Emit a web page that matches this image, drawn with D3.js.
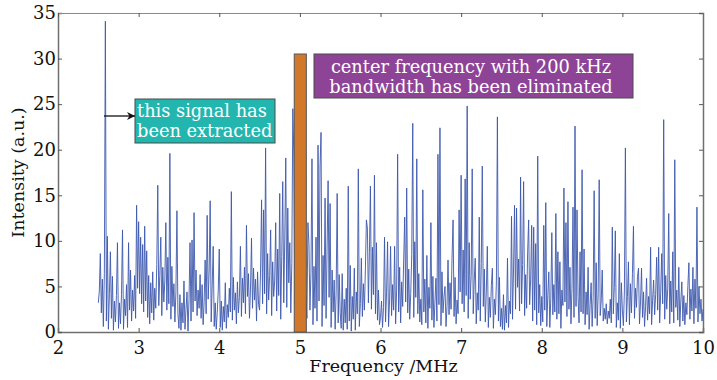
<!DOCTYPE html>
<html>
<head>
<meta charset="utf-8">
<script src="https://cdn.jsdelivr.net/npm/d3@7"></script>
<style>
  body { margin: 0; background: #fff; }
  text { font-family: "DejaVu Serif", serif; }
</style>
</head>
<body>
<div id="chart"></div>
<script>
// spectrum sampled every 0.0125 MHz starting at 2.5 MHz (one row = 0.5 MHz)
const freqStart = 2.5;
const freqStep = 0.0125;
const intensity = [
  3.2,4.5,8.6,2.1,5.8,0.6,6.4,34.1,1.2,10.5,0.3,4.2,8.8,1.5,6.1,0.2,3.4,1.1,4.0,9.8,0.4,3.2,0.9,4.1,11.2,0.3,3.6,1.8,5.2,0.5,9.8,2.4,6.8,1.2,4.6,2.3,6.2,1.5,13.9,4.8,
  12.1,4.2,10.4,3.1,9.6,2.2,11.6,3.4,8.9,1.6,6.2,0.9,5.4,2.1,6.6,1.3,4.8,2.6,7.4,16.1,2.9,6.2,10.4,1.8,7.1,3.3,5.6,12.0,2.4,8.2,3.1,19.6,1.4,7.2,2.8,5.3,1.1,4.4,13.3,2.0,
  0.4,4.1,0.2,3.2,1.0,5.6,0.3,2.5,4.4,0.1,3.6,9.8,1.2,10.1,2.2,13.1,3.4,6.8,1.8,4.6,2.6,6.3,1.5,5.2,0.8,3.3,7.9,2.0,12.8,3.6,6.7,14.4,1.1,5.1,9.4,0.6,3.2,0.3,2.1,4.5,
  9.1,0.5,3.4,0.2,2.8,1.1,5.4,0.4,3.0,1.6,4.8,2.2,15.4,1.3,6.0,2.4,4.3,0.9,5.5,2.1,3.8,9.4,1.7,5.9,3.2,7.1,2.0,11.7,3.9,6.4,1.5,4.7,10.3,2.6,7.0,3.5,5.8,1.2,6.6,3.0,
  2.4,6.8,14.5,3.1,13.4,4.2,20.2,2.0,8.6,3.5,6.2,11.2,1.8,7.7,3.9,5.6,12.0,2.3,9.1,4.0,15.2,1.4,8.3,16.5,3.2,10.2,19.1,2.7,13.6,5.4,9.8,2.1,7.5,24.5,19.4,3.0,6.0,2.0,5.0,3.0,
  4.0,2.0,5.0,3.0,6.0,2.0,4.0,1.5,12.0,9.7,2.4,6.5,19.0,0.8,7.2,2.6,10.4,1.2,20.5,3.4,18.1,21.9,0.6,8.4,2.9,14.7,1.5,9.2,16.6,3.8,14.1,0.5,6.8,2.2,5.7,0.3,4.5,15.2,1.0,6.3,
  2.1,0.4,6.4,0.2,3.6,1.0,4.8,0.3,16.0,1.2,7.3,0.1,3.9,1.4,7.0,0.2,4.4,2.0,17.9,0.6,3.1,8.1,1.7,5.3,2.4,6.8,12.3,11.4,3.2,8.7,16.0,2.5,9.3,4.1,17.2,2.0,9.8,1.3,4.6,0.8,
  1.6,3.4,0.5,2.7,10.4,1.1,4.3,9.9,0.6,3.5,9.4,1.8,5.2,2.4,9.4,0.9,4.6,19.5,2.2,7.1,1.0,5.5,2.8,7.9,12.6,3.3,15.8,2.1,6.9,1.4,4.2,8.5,22.9,1.6,9.9,3.8,19.0,2.0,6.4,1.1,
  3.6,0.8,15.6,2.2,5.8,1.0,8.4,0.4,4.9,2.6,12.0,1.3,6.1,0.5,3.3,5.9,1.2,19.5,3.0,22.4,0.7,6.6,2.1,3.9,5.0,0.6,2.8,7.9,1.9,5.4,2.5,8.2,12.3,1.7,6.0,0.9,3.5,2.0,13.4,4.4,
  17.2,3.1,9.0,2.2,16.8,4.0,24.8,1.5,9.8,3.6,6.2,17.9,2.0,5.6,8.1,0.9,4.3,2.4,12.6,1.2,7.5,18.2,2.8,6.9,1.1,4.5,9.4,0.5,3.8,1.6,5.1,7.0,0.4,3.6,1.9,5.5,23.6,1.2,6.0,0.6,
  2.6,0.3,4.1,0.2,2.9,1.0,8.1,0.5,3.4,2.0,12.7,1.4,6.8,13.9,2.5,13.6,4.9,8.0,2.3,17.0,3.1,7.4,16.5,1.8,6.3,2.6,8.8,12.3,3.0,5.8,11.7,1.2,11.5,2.4,9.7,0.8,19.3,2.1,5.2,0.7,
  3.9,1.1,11.7,2.4,14.2,0.6,4.0,6.6,0.5,3.7,10.9,1.9,5.2,2.2,13.0,1.4,8.8,2.0,7.7,0.4,4.6,2.9,15.8,3.3,12.0,1.7,14.3,2.5,7.1,0.9,4.8,13.7,1.6,22.6,2.8,13.4,3.9,1.0,8.8,2.2,
  17.8,2.0,9.1,0.8,4.4,1.9,7.1,0.3,3.0,5.4,0.6,3.8,15.5,1.5,7.6,0.7,4.2,16.7,1.8,3.4,6.8,1.2,2.6,1.4,3.1,0.9,2.3,1.5,3.6,1.0,11.5,2.0,4.9,11.1,0.5,3.2,1.3,8.6,0.4,5.4,
  2.4,0.7,4.5,20.2,1.1,3.9,7.7,0.8,5.3,2.1,6.4,11.6,1.5,4.8,2.7,6.1,7.0,0.9,3.3,7.0,1.6,4.4,0.6,2.8,5.9,1.3,3.9,2.0,9.3,0.8,3.5,5.7,1.9,4.1,8.2,2.4,9.3,1.0,4.3,8.6,
  3.1,23.3,1.4,6.2,2.5,4.8,13.0,0.9,5.6,2.2,8.8,1.0,18.9,2.7,4.6,1.3,7.1,0.6,3.4,5.5,1.2,4.0,0.8,3.2,1.9,5.1,7.6,1.4,4.7,2.3,7.1,0.9,5.8,2.6,13.7,1.1,5.0,2.0,3.6,1.2,
  2.5
];

// eliminated band around the 5 MHz centre frequency
const bandFreq = [4.93, 5.08];
const bandHeight = 30.5;

const xTicks = [2, 3, 4, 5, 6, 7, 8, 9, 10];
const yTicks = [0, 5, 10, 15, 20, 25, 30, 35];

const noteExtracted = ["this signal has", "been extracted"];
const noteEliminated = ["center frequency with 200 kHz", "bandwidth has been eliminated"];

const width = 717, height = 380;
const margin = { top: 13, right: 14, bottom: 48, left: 58 };
const w = width - margin.left - margin.right;
const h = height - margin.top - margin.bottom;

const svg = d3.select("#chart")
    .append("svg")
    .attr("width", width)
    .attr("height", height);

svg.append("defs").append("marker")
    .attr("id", "arrow")
    .attr("viewBox", "0 0 10 10")
    .attr("refX", 10).attr("refY", 5)
    .attr("markerWidth", 10).attr("markerHeight", 8)
    .attr("markerUnits", "userSpaceOnUse")
    .attr("orient", "auto")
    .append("path")
    .attr("d", "M0,0 L10,5 L0,10 L3,5 Z")
    .attr("fill", "#111");

const g = svg.append("g")
    .attr("transform", `translate(${margin.left}, ${margin.top})`);

const x = d3.scaleLinear().domain([2, 10]).range([0, w]);
const y = d3.scaleLinear().domain([0, 35]).range([h, 0]);

// axes (ticks pointing inwards on all four sides)
function styleAxis(sel) {
    sel.select("path.domain").attr("stroke", "#6f6f6f").attr("stroke-width", 1.5);
    sel.selectAll(".tick line").attr("stroke", "#555");
    sel.selectAll(".tick text")
        .attr("fill", "#111")
        .style("font-size", "18px")
        .style("font-family", "DejaVu Serif, serif");
}

g.append("g")
    .attr("transform", `translate(0, ${h})`)
    .call(d3.axisBottom(x).tickValues(xTicks).tickSize(-4).tickPadding(9).tickFormat(d3.format("d")))
    .call(styleAxis);

g.append("g")
    .call(d3.axisLeft(y).tickValues(yTicks).tickSize(-4).tickPadding(2).tickFormat(d3.format("d")))
    .call(styleAxis);

g.append("g")
    .call(d3.axisTop(x).tickValues(xTicks).tickSize(-4).tickFormat(""))
    .call(styleAxis)
    .select("path.domain").attr("stroke", "#8a8a8a").attr("stroke-width", 1);

g.append("g")
    .attr("transform", `translate(${w}, 0)`)
    .call(d3.axisRight(y).tickValues(yTicks).tickSize(-4).tickFormat(""))
    .call(styleAxis)
    .select("path.domain").attr("stroke", "#6f6f6f").attr("stroke-width", 1.5);

// spectrum line
const line = d3.line()
    .x((d, i) => x(freqStart + i * freqStep))
    .y(d => y(d));

g.append("path")
    .datum(intensity)
    .attr("fill", "none")
    .attr("stroke", "#3d58ad")
    .attr("stroke-width", 0.9)
    .attr("stroke-linejoin", "round")
    .attr("d", line);

// eliminated band
g.append("rect")
    .attr("x", x(bandFreq[0]))
    .attr("y", y(bandHeight))
    .attr("width", x(bandFreq[1]) - x(bandFreq[0]))
    .attr("height", y(0) - y(bandHeight))
    .attr("fill", "#d2782a")
    .attr("stroke", "#555")
    .attr("stroke-width", 1);

// annotations
const teal = g.append("g").attr("transform", `translate(${135 - margin.left}, ${99 - margin.top})`);
teal.append("rect")
    .attr("width", 140).attr("height", 44)
    .attr("fill", "#22b6ae").attr("stroke", "#4a4a4a").attr("stroke-width", 1);
teal.selectAll("text")
    .data(noteExtracted)
    .enter()
    .append("text")
    .attr("x", 2)
    .attr("y", (d, i) => 18 + i * 20)
    .attr("fill", "#fff")
    .style("font-size", "17.8px")
    .text(d => d);

g.append("line")
    .attr("x1", 104 - margin.left).attr("y1", 116 - margin.top)
    .attr("x2", 135 - margin.left).attr("y2", 116 - margin.top)
    .attr("stroke", "#111").attr("stroke-width", 1.3)
    .attr("marker-end", "url(#arrow)");

const purple = g.append("g").attr("transform", `translate(${314 - margin.left}, ${54 - margin.top})`);
purple.append("rect")
    .attr("width", 319).attr("height", 44)
    .attr("fill", "#8d4497").attr("stroke", "#4a4a4a").attr("stroke-width", 1);
purple.selectAll("text")
    .data(noteEliminated)
    .enter()
    .append("text")
    .attr("x", 157)
    .attr("y", (d, i) => 19 + i * 20)
    .attr("text-anchor", "middle")
    .attr("fill", "#fff")
    .style("font-size", "17.8px")
    .text(d => d);

// axis titles
svg.append("text")
    .attr("x", margin.left + w / 2 + 3)
    .attr("y", 372)
    .attr("text-anchor", "middle")
    .attr("fill", "#111")
    .style("font-size", "17.5px")
    .text("Frequency /MHz");

svg.append("text")
    .attr("transform", `translate(24, ${margin.top + h / 2}) rotate(-90)`)
    .attr("text-anchor", "middle")
    .attr("fill", "#111")
    .style("font-size", "17.5px")
    .text("Intensity (a.u.)");
</script>
</body>
</html>
